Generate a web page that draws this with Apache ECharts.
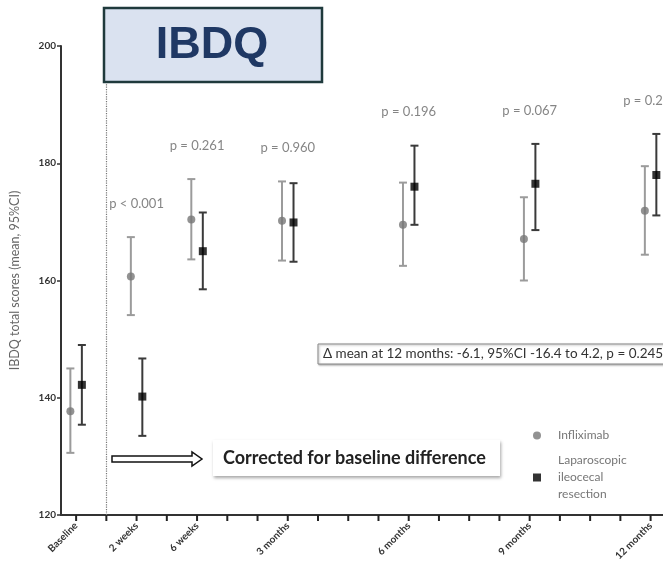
<!DOCTYPE html>
<html>
<head>
<meta charset="utf-8">
<script src="https://cdn.jsdelivr.net/npm/echarts@6/dist/echarts.min.js"></script>
<style>html,body{margin:0;padding:0;background:#fff}#c{width:663px;height:570px}</style>
</head>
<body>
<div id="c"></div>
<script>
// ---- data ----
const categories = ['Baseline', '2 weeks', '6 weeks', '3 months', '6 months', '9 months', '12 months'];
const timeIndex = [0, 2, 4, 7, 11, 15, 19];           // position of each visit on the time axis
const axisTicks = [0,1,2,3,4,5,6,7,8,9,10,11,12,13,14,15,16,17,18,19];
const yTicks = [120, 140, 160, 180, 200];

const inflMean = [137.7, 160.7, 170.4, 170.2, 169.5, 167.1, 171.9];
const inflLow  = [130.6, 154.1, 163.6, 163.4, 162.5, 160.0, 164.4];
const inflHigh = [145.0, 167.4, 177.3, 176.9, 176.7, 174.2, 179.5];

const lirMean = [142.2, 140.2, 165.0, 169.9, 176.0, 176.5, 178.0];
const lirLow  = [135.4, 133.5, 158.5, 163.2, 169.5, 168.6, 171.1];
const lirHigh = [149.0, 146.7, 171.6, 176.6, 183.0, 183.3, 185.0];

const pValues = ['', 'p < 0.001', 'p = 0.261', 'p = 0.960', 'p = 0.196', 'p = 0.067', 'p = 0.245'];
const baselineDivider = 1;
const deltaText = '\u0394 mean at 12 months: -6.1, 95%CI -16.4 to 4.2, p = 0.245';
const correctedText = 'Corrected for baseline difference';
const seriesNames = ['Infliximab', 'Laparoscopic ileocecal resection'];

// ---- build ----
const DODGE = 0.19;
const Y_MIN = 120;
const inflPts = timeIndex.map((t, i) => [t - DODGE, inflMean[i]]);
const lirPts = timeIndex.map((t, i) => [t + DODGE, lirMean[i]]);
const inflErr = timeIndex.map((t, i) => [t - DODGE, inflLow[i], inflHigh[i]]);
const lirErr = timeIndex.map((t, i) => [t + DODGE, lirLow[i], lirHigh[i]]);
const pPts = timeIndex.map((t, i) => ({value: [t, Math.max(inflHigh[i], lirHigh[i])], p: pValues[i]}));
const tickPts = axisTicks.map(t => [t, Y_MIN]);

function errRender(color) {
  return function (params, api) {
    const x = api.value(0);
    const top = api.coord([x, api.value(2)]);
    const bot = api.coord([x, api.value(1)]);
    const hw = 4;
    const st = {stroke: color, lineWidth: 2};
    return {
      type: 'group',
      children: [
        {type: 'line', shape: {x1: top[0], y1: top[1], x2: bot[0], y2: bot[1]}, style: st},
        {type: 'line', shape: {x1: top[0] - hw, y1: top[1], x2: top[0] + hw, y2: top[1]}, style: st},
        {type: 'line', shape: {x1: bot[0] - hw, y1: bot[1], x2: bot[0] + hw, y2: bot[1]}, style: st}
      ]
    };
  };
}
function tickRender(params, api) {
  const p = api.coord([api.value(0), api.value(1)]);
  return {type: 'line', shape: {x1: p[0], y1: p[1], x2: p[0], y2: p[1] + 6},
    style: {stroke: '#222', lineWidth: 2}};
}

const chart = echarts.init(document.getElementById('c'), null, {renderer: 'canvas'});
const FONT = 'Lato, "Liberation Sans", sans-serif';

chart.setOption({
  animation: false,
  backgroundColor: '#fff',
  grid: {left: 57, right: 0, top: 46, bottom: 55, containLabel: false},
  xAxis: {
    type: 'value', min: -0.5, max: 19.41,
    axisLine: {onZero: false, lineStyle: {color: '#333', width: 2}},
    axisTick: {show: false},
    axisLabel: {
      customValues: timeIndex, rotate: 45, margin: 9,
      formatter: v => categories[timeIndex.indexOf(v)] || '',
      fontFamily: FONT, fontWeight: 'bold', fontSize: 10, color: '#333'
    },
    splitLine: {show: false}
  },
  yAxis: {
    type: 'value', min: Y_MIN, max: 200, interval: 20,
    name: 'IBDQ total scores (mean, 95%CI)', nameLocation: 'middle', nameGap: 40, nameRotate: 90,
    nameTextStyle: {fontFamily: FONT, fontSize: 12.5, color: '#666'},
    axisLine: {show: true, onZero: false, lineStyle: {color: '#333', width: 2}},
    axisTick: {show: true, length: 4, lineStyle: {color: '#333', width: 1.5}},
    axisLabel: {fontFamily: FONT, fontWeight: 'bold', fontSize: 10, color: '#333', margin: 5,
      formatter: v => yTicks.includes(v) ? String(v) : ''},
    splitLine: {show: false}
  },
  legend: {
    orient: 'vertical', left: 528, top: 422, itemGap: 8,
    itemWidth: 8, itemHeight: 8,
    data: [{name: seriesNames[0], icon: 'circle'}, {name: seriesNames[1], icon: 'rect'}],
    formatter: n => n === seriesNames[1] ? 'Laparoscopic\nileocecal\nresection' : n,
    textStyle: {fontFamily: FONT, fontSize: 12, color: '#777', lineHeight: 17, padding: [0, 0, 0, 12]}
  },
  graphic: [
    {type: 'rect', shape: {x: 104, y: 8, width: 218, height: 74},
      style: {fill: '#dae2f0', stroke: '#1f3a3c', lineWidth: 2.5}, z: 10},
    {type: 'text', x: 212, y: 46, z: 11,
      style: {text: 'IBDQ', fill: '#1f3864', font: 'bold 45px "Liberation Sans", Arial, sans-serif',
        align: 'center', verticalAlign: 'middle'}},
    {type: 'rect', shape: {x: 318, y: 344, width: 400, height: 20},
      style: {fill: '#fff', stroke: '#888', lineWidth: 1, shadowColor: 'rgba(0,0,0,0.3)', shadowBlur: 2, shadowOffsetX: 1, shadowOffsetY: 1}, z: 10},
    {type: 'text', x: 323, y: 354, z: 11,
      style: {text: deltaText, fill: '#333', font: '13.5px Lato, sans-serif', verticalAlign: 'middle'}},
    {type: 'rect', shape: {x: 213, y: 440, width: 287, height: 36},
      style: {fill: '#fff', shadowColor: 'rgba(0,0,0,0.35)', shadowBlur: 3, shadowOffsetY: 2, shadowOffsetX: 1}, z: 10},
    {type: 'text', x: 223, y: 458, z: 11,
      style: {text: correctedText, fill: '#222', font: 'bold 18px Lato, sans-serif', verticalAlign: 'middle'}},
    {type: 'polygon', z: 11,
      shape: {points: [[112, 456], [192, 456], [192, 452], [202, 459], [192, 466], [192, 462], [112, 462]]},
      style: {fill: '#fff', stroke: '#111', lineWidth: 1.5}}
  ],
  series: [
    {
      type: 'custom', name: 'inflErr', renderItem: errRender('#9b9b9b'), data: inflErr, z: 2,
      encode: {x: 0, y: [1, 2]}, silent: true,
      markLine: {
        silent: true, symbol: 'none', label: {show: false},
        lineStyle: {type: 'dotted', color: '#777', width: 1.2},
        data: [{xAxis: baselineDivider}]
      }
    },
    {type: 'custom', name: 'lirErr', renderItem: errRender('#3a3a3a'), data: lirErr, z: 2,
      encode: {x: 0, y: [1, 2]}, silent: true},
    {type: 'custom', name: 'xTicks', renderItem: tickRender, data: tickPts, clip: false, silent: true,
      encode: {x: 0, y: 1}, z: 4},
    {type: 'scatter', name: seriesNames[0], data: inflPts, symbol: 'circle', symbolSize: 8,
      itemStyle: {color: '#777'}, z: 3},
    {type: 'scatter', name: seriesNames[1], data: lirPts, symbol: 'rect', symbolSize: 8,
      itemStyle: {color: '#000'}, z: 3},
    {type: 'scatter', name: 'pvals', data: pPts, symbolSize: 0, silent: true, clip: false,
      label: {show: true, position: 'top', distance: 27, formatter: p => p.data.p,
        fontFamily: FONT, fontSize: 13, color: '#666'}}
  ]
});
</script>
</body>
</html>
